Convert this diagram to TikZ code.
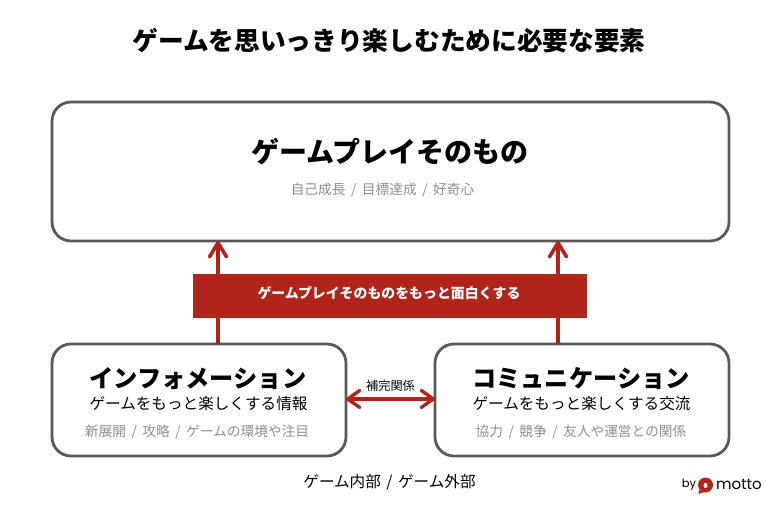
\documentclass[tikz,border=0pt]{standalone}
\usepackage{fontspec}
\usepackage{tikz}
\usetikzlibrary{arrows.meta}
\setmainfont{Noto Sans CJK JP}
\newfontfamily\logofont{Poppins}
\definecolor{mottored}{HTML}{B0241A}
\definecolor{boxgray}{HTML}{595959}
\definecolor{subgray}{HTML}{8F8F8F}
\newcommand{\sepslash}{\hspace{5.5pt}/\hspace{5.5pt}}
\tikzset{
	panel/.style={draw=boxgray,line width=2.8pt,rounded corners=19pt,fill=white,inner sep=0pt},
	redarrow/.style={draw=mottored,line width=3.6pt,-{Straight Barb[length=14pt,width=17pt,line width=3.6pt,round]}},
	redboth/.style={draw=mottored,line width=3.2pt,{Straight Barb[length=12pt,width=17pt,line width=3.4pt,round]}-{Straight Barb[length=12pt,width=17pt,line width=3.4pt,round]}},
	headtext/.style={font=\fontsize{24.2}{28}\selectfont\bfseries,text=black},
	subtext/.style={font=\fontsize{15.6}{18}\selectfont,text=black},
	graytext/.style={font=\fontsize{13.7}{16}\selectfont,text=subgray},
}
\begin{document}
\begin{tikzpicture}[x=1pt,y=-1pt]
	\useasboundingbox (0,0) rectangle (783,512);
	\fill[white] (0,0) rectangle (783,512);
	\node[font=\fontsize{25.7}{28}\selectfont\bfseries] (title) at (389,40.5) {ゲームを思いっきり楽しむために必要な要素};
	% boxes
	\node[panel,minimum width=677pt,minimum height=139pt] (playbox) at (390.5,171.5) {};
	\node[panel,minimum width=294pt,minimum height=112pt] (infobox) at (199,400) {};
	\node[panel,minimum width=294pt,minimum height=112pt] (commbox) at (582,400) {};
	% red bar
	\coordinate (leftfoot) at (218,344);
	\coordinate (rightfoot) at (558,344);
	\coordinate (lefttop) at (218,241);
	\coordinate (righttop) at (558,241);
	\draw[redarrow] (leftfoot) -- (lefttop);
	\draw[redarrow] (rightfoot) -- (righttop);
	\node[fill=mottored,minimum width=394pt,minimum height=44pt,inner sep=0pt] (redbar) at (390,296) {};
	\node[text=white,font=\fontsize{13.9}{16}\selectfont\bfseries] (redlabel) at (389,293.5) {ゲームプレイそのものをもっと面白くする};
	% texts in boxes
	\node[font=\fontsize{28}{30}\selectfont\bfseries] (playhead) at (390,151.5) {ゲームプレイそのもの};
	\node[graytext] (playsub) at (382.5,189.5) {自己成長\sepslash 目標達成\sepslash 好奇心};
	\node[headtext] (infohead) at (198,378.5) {インフォメーション};
	\node[subtext] (infosub) at (198.5,403.5) {ゲームをもっと楽しくする情報};
	\node[graytext] (infogray) at (197,431.5) {新展開\sepslash 攻略\sepslash ゲームの環境や注目};
	\node[headtext] (commhead) at (581,378.5) {コミュニケーション};
	\node[subtext] (commsub) at (581.5,403.5) {ゲームをもっと楽しくする交流};
	\node[graytext] (commgray) at (581,431.5) {協力\sepslash 競争\sepslash 友人や運営との関係};
	% between the lower boxes
	\coordinate (bothl) at (346,399);
	\coordinate (bothr) at (435,399);
	\draw[redboth] (bothl) -- (bothr);
	\node[font=\fontsize{12.2}{13}\selectfont] (bothlabel) at (390.5,386) {補完関係};
	\node[font=\fontsize{15.6}{18}\selectfont] (bottomlabel) at (389.5,482.5) {ゲーム内部\sepslash ゲーム外部};
	% logo
	\node[font=\logofont\fontsize{11.5}{14}\selectfont,inner sep=0pt] (logoby) at (689,485) {by};
	\fill[mottored] (705.5,485) circle (7.5pt);
	\fill[mottored] (699,490) -- (698.5,494) -- (704,492) -- cycle;
	\fill[white] (705.5,485.5) ellipse (2pt and 2.6pt);
	\node[font=\logofont\fontsize{15}{20}\selectfont,inner sep=0pt] (logoname) at (739,484) {motto};
\end{tikzpicture}
\end{document}
